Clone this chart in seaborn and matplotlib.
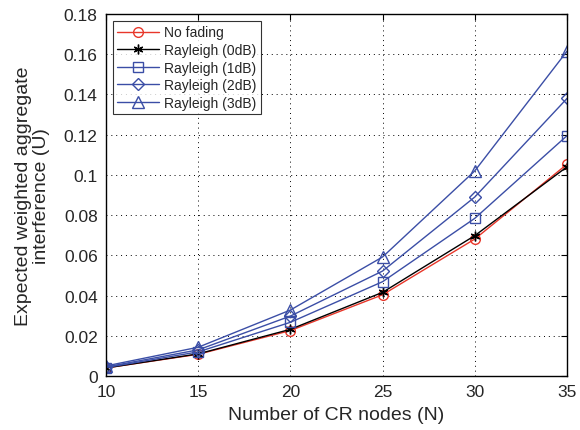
import matplotlib
matplotlib.use("Agg")
import matplotlib.pyplot as plt
import seaborn as sns
import pandas as pd
from matplotlib.ticker import FuncFormatter

nodes = [10, 15, 20, 25, 30, 35]
no_fading = [0.0040, 0.0108, 0.0226, 0.0404, 0.0681, 0.1053]
rayleigh_0 = [0.0040, 0.0110, 0.0232, 0.0416, 0.0698, 0.1040]
rayleigh_1 = [0.0042, 0.0120, 0.0267, 0.0469, 0.0784, 0.1195]
rayleigh_2 = [0.0045, 0.0130, 0.0298, 0.0522, 0.0890, 0.1380]
rayleigh_3 = [0.0050, 0.0143, 0.0328, 0.0592, 0.1020, 0.1615]
series_names = ["No fading", "Rayleigh (0dB)", "Rayleigh (1dB)", "Rayleigh (2dB)", "Rayleigh (3dB)"]
xlabel = "Number of CR nodes (N)"
ylabel = "Expected weighted aggregate\ninterference (U)"

rows = []
for name, vals in zip(series_names, [no_fading, rayleigh_0, rayleigh_1, rayleigh_2, rayleigh_3]):
    for n, v in zip(nodes, vals):
        rows.append({"N": n, "U": v, "series": name})
df = pd.DataFrame(rows)

sns.set_style("white")
plt.rcParams['font.family'] = ['Liberation Sans', 'DejaVu Sans']

fig = plt.figure(figsize=(5.8, 4.31), dpi=100)
ax = fig.add_axes([106 / 580, 54 / 431, 461 / 580, 362 / 431])

blue = "#3b4ea6"
palette = {"No fading": "#e8372a", "Rayleigh (0dB)": "black",
           "Rayleigh (1dB)": blue, "Rayleigh (2dB)": blue, "Rayleigh (3dB)": blue}
markers = {"No fading": "o", "Rayleigh (0dB)": (6, 2, 0),
           "Rayleigh (1dB)": "s", "Rayleigh (2dB)": "D", "Rayleigh (3dB)": "^"}
sizes = {"No fading": 7, "Rayleigh (0dB)": 7, "Rayleigh (1dB)": 6.5,
         "Rayleigh (2dB)": 6, "Rayleigh (3dB)": 8}

for name in series_names:
    sub = df[df["series"] == name]
    face = "none" if name != "Rayleigh (0dB)" else "black"
    sns.lineplot(data=sub, x="N", y="U", ax=ax, color=palette[name], lw=1.0,
                 marker=markers[name], markersize=sizes[name],
                 markerfacecolor=face, markeredgecolor=palette[name],
                 markeredgewidth=1.0, label=name)

ax.set_xlim(10, 35)
ax.set_ylim(0, 0.18)
ax.set_xticks(nodes)
ax.set_yticks([0, 0.02, 0.04, 0.06, 0.08, 0.1, 0.12, 0.14, 0.16, 0.18])
ax.yaxis.set_major_formatter(FuncFormatter(lambda v, p: "%g" % round(v, 2)))
ax.grid(True, linestyle=(0, (1, 4)), color="black", lw=0.7)
ax.tick_params(direction="in", top=True, right=True, length=4, labelsize=12.5,
               color="black", pad=6)
for s in ax.spines.values():
    s.set_color("black")
    s.set_linewidth(1.0)
ax.set_xlabel(xlabel, fontsize=14, labelpad=5)
ax.set_ylabel(ylabel, fontsize=14, linespacing=1.1)
ax.yaxis.set_label_coords(-0.121, 0.5)

leg = ax.legend(loc="upper left", fontsize=10, frameon=True, fancybox=False,
                edgecolor="black", bbox_to_anchor=(0.015, 0.98), borderaxespad=0,
                handlelength=3.0, labelspacing=0.26, borderpad=0.3, handletextpad=0.4)
leg.get_frame().set_linewidth(0.8)

fig.savefig("out.png", dpi=100)
